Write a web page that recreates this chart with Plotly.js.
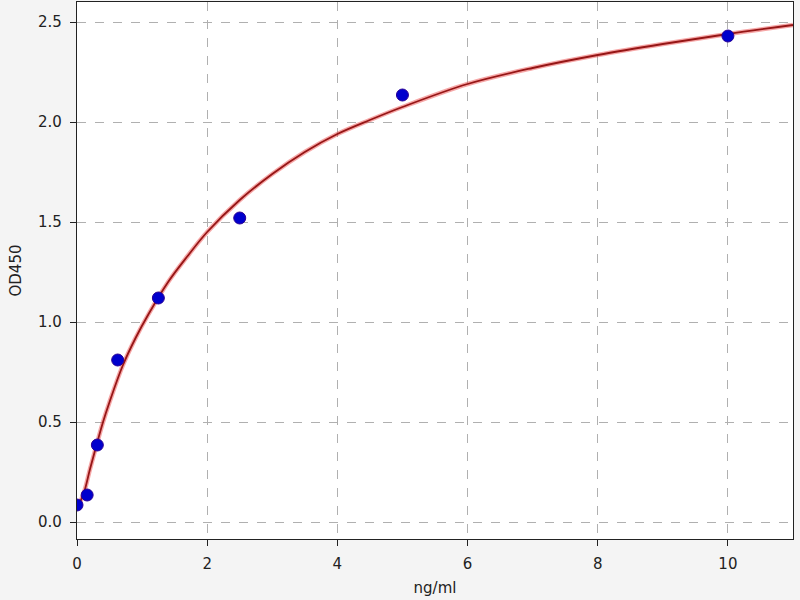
<!DOCTYPE html>
<html>
<head>
<meta charset="utf-8">
<script src="https://cdn.plot.ly/plotly-3.0.1.min.js"></script>
<style>
  body { margin: 0; background: #f4f4f4; }
  #curve { width: 800px; height: 600px; }
</style>
</head>
<body>
<div id="curve"></div>
<script>
// standards (ng/ml) and measured OD450
var conc = [0, 0.156, 0.3125, 0.625, 1.25, 2.5, 5, 10];
var od = [0.085, 0.135, 0.385, 0.81, 1.12, 1.52, 2.135, 2.43];

// fitted curve
var fitX = [0, 0.1, 0.2, 0.3, 0.4, 0.5, 0.7, 0.9, 1.1, 1.4, 1.7, 2.0, 2.5, 3.0, 3.5, 4.0, 4.5, 5.0, 6.0, 7.0, 8.0, 9.0, 10.0, 11.0];
var fitY = [0.07, 0.14, 0.265, 0.385, 0.5, 0.6, 0.78, 0.92, 1.04, 1.2, 1.33, 1.45, 1.61, 1.74, 1.85, 1.94, 2.01, 2.075, 2.19, 2.27, 2.335, 2.39, 2.44, 2.485];

var glow = {
    type: 'scatter',
    x: fitX,
    y: fitY,
    mode: 'lines',
    line: { color: 'rgba(235, 60, 60, 0.45)', width: 4.5, shape: 'spline', smoothing: 1 },
    hoverinfo: 'skip'
};

var fit = {
    type: 'scatter',
    x: fitX,
    y: fitY,
    mode: 'lines',
    line: { color: 'rgb(150, 22, 22)', width: 1.8, shape: 'spline', smoothing: 1 }
};

var points = {
    type: 'scatter',
    x: conc,
    y: od,
    mode: 'markers',
    marker: { color: 'rgb(0, 0, 205)', size: 12, line: { color: 'rgb(40, 0, 150)', width: 1 } }
};

var axisStyle = {
    showline: true,
    linecolor: '#222',
    linewidth: 1.3,
    mirror: true,
    ticks: 'outside',
    ticklen: 6,
    tickwidth: 1.2,
    tickcolor: '#222',
    ticklabelstandoff: 5,
    showgrid: true,
    gridcolor: '#b0b0b0',
    griddash: 'dash',
    gridwidth: 1,
    zeroline: false,
    tickfont: { family: 'DejaVu Sans', size: 15, color: '#222' }
};

var layout = {
    width: 800,
    height: 600,
    showlegend: false,
    paper_bgcolor: '#f4f4f4',
    plot_bgcolor: 'white',
    margin: { l: 77, r: 7, t: 2, b: 61 },
    font: { family: 'DejaVu Sans', size: 15, color: '#222' },
    xaxis: Object.assign({}, axisStyle, {
        range: [0, 11],
        dtick: 2,
        title: { text: 'ng/ml', standoff: 10, font: { size: 15 } }
    }),
    yaxis: Object.assign({}, axisStyle, {
        range: [-0.085, 2.6],
        dtick: 0.5,
        tickformat: '.1f',
        title: { text: 'OD450', standoff: 12, font: { size: 15 } }
    })
};

Plotly.newPlot('curve', [glow, fit, points], layout, { displayModeBar: false });
</script>
</body>
</html>
